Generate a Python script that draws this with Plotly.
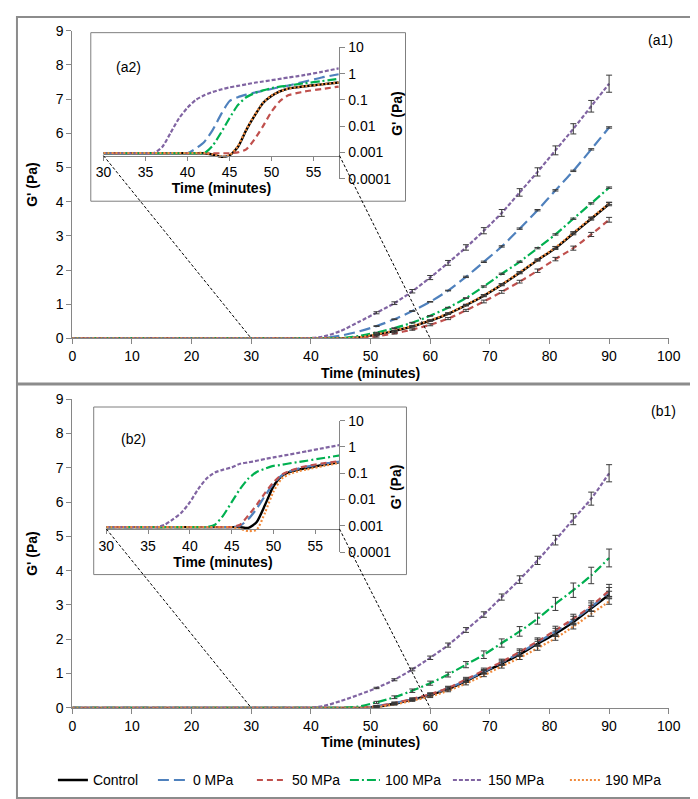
import plotly.graph_objects as go

W, H = 698, 799

# ---------------- data ----------------
SERIES = ["Control", "0 MPa", "50 MPa", "100 MPa", "150 MPa", "190 MPa"]

T_MAIN = [0, 3, 6, 9, 12, 15, 18, 21, 24, 27, 30, 33, 36, 39, 42, 45,
          48, 51, 54, 57, 60, 63, 66, 69, 72, 75, 78, 81, 84, 87, 90]
T_ERR = [51, 54, 57, 60, 63, 66, 69, 72, 75, 78, 81, 84, 87, 90]
T_IN = [30, 32, 34, 36, 37, 38, 39, 40, 41, 42, 43, 44, 45, 46, 47, 48,
        49, 50, 51, 52, 53, 54, 56, 58]

# panel (a1) main, G' (Pa)
A_CONTROL = [0, 0, 0, 0, 0, 0, 0, 0, 0, 0, 0, 0, 0, 0, 0, 0.0,
             0.03, 0.11, 0.22, 0.35, 0.52, 0.72, 0.97, 1.25, 1.57, 1.92, 2.29, 2.64, 3.07, 3.50, 3.93]
A_0MPA = [0, 0, 0, 0, 0, 0, 0, 0, 0, 0, 0, 0, 0, 0, 0.01, 0.08,
          0.20, 0.36, 0.56, 0.80, 1.07, 1.40, 1.80, 2.24, 2.69, 3.21, 3.75, 4.33, 4.90, 5.53, 6.17]
A_50MPA = [0, 0, 0, 0, 0, 0, 0, 0, 0, 0, 0, 0, 0, 0, 0, 0,
           0.01, 0.06, 0.15, 0.26, 0.40, 0.58, 0.82, 1.08, 1.36, 1.66, 1.98, 2.32, 2.64, 3.04, 3.47]
A_100MPA = [0, 0, 0, 0, 0, 0, 0, 0, 0, 0, 0, 0, 0, 0, 0, 0.01,
            0.07, 0.17, 0.30, 0.46, 0.66, 0.90, 1.18, 1.52, 1.89, 2.24, 2.64, 3.04, 3.50, 3.95, 4.41]
A_150MPA = [0, 0, 0, 0, 0, 0, 0, 0, 0, 0, 0, 0, 0, 0.0, 0.05, 0.22,
            0.48, 0.75, 1.03, 1.38, 1.78, 2.21, 2.66, 3.15, 3.67, 4.27, 4.87, 5.50, 6.13, 6.79, 7.45]
A_190MPA = [0, 0, 0, 0, 0, 0, 0, 0, 0, 0, 0, 0, 0, 0, 0, 0.0,
            0.03, 0.12, 0.23, 0.36, 0.53, 0.73, 0.98, 1.26, 1.58, 1.93, 2.30, 2.66, 3.09, 3.52, 3.95]

EA_CONTROL = [0.01, 0.01, 0.02, 0.02, 0.02, 0.02, 0.03, 0.03, 0.03, 0.03, 0.04, 0.04, 0.04, 0.05]
EA_0MPA = [0.01, 0.01, 0.01, 0.01, 0.01, 0.02, 0.02, 0.02, 0.02, 0.02, 0.02, 0.02, 0.02, 0.02]
EA_50MPA = [0.02, 0.02, 0.02, 0.03, 0.03, 0.03, 0.04, 0.04, 0.04, 0.05, 0.05, 0.06, 0.06, 0.07]
EA_100MPA = [0.01, 0.01, 0.01, 0.01, 0.01, 0.01, 0.02, 0.02, 0.02, 0.02, 0.02, 0.02, 0.02, 0.02]
EA_150MPA = [0.03, 0.04, 0.05, 0.06, 0.07, 0.08, 0.09, 0.10, 0.11, 0.12, 0.13, 0.15, 0.17, 0.25]
EA_190MPA = [0.01, 0.01, 0.01, 0.01, 0.02, 0.02, 0.02, 0.02, 0.02, 0.02, 0.03, 0.03, 0.03, 0.03]

# panel (b1) main, G' (Pa)
B_CONTROL = [0, 0, 0, 0, 0, 0, 0, 0, 0, 0, 0, 0, 0, 0, 0, 0, 0,
             0.03, 0.12, 0.24, 0.37, 0.55, 0.78, 1.04, 1.29, 1.56, 1.87, 2.16, 2.50, 2.90, 3.30]
B_0MPA = [0, 0, 0, 0, 0, 0, 0, 0, 0, 0, 0, 0, 0, 0, 0, 0, 0,
          0.05, 0.14, 0.25, 0.39, 0.57, 0.80, 1.06, 1.32, 1.60, 1.91, 2.22, 2.56, 2.94, 3.38]
B_50MPA = [0, 0, 0, 0, 0, 0, 0, 0, 0, 0, 0, 0, 0, 0, 0, 0, 0,
           0.05, 0.14, 0.26, 0.40, 0.58, 0.83, 1.09, 1.34, 1.63, 1.94, 2.26, 2.60, 2.97, 3.42]
B_100MPA = [0, 0, 0, 0, 0, 0, 0, 0, 0, 0, 0, 0, 0, 0, 0, 0,
            0.04, 0.16, 0.31, 0.50, 0.72, 0.97, 1.26, 1.55, 1.89, 2.23, 2.60, 3.03, 3.43, 3.86, 4.37]
B_150MPA = [0, 0, 0, 0, 0, 0, 0, 0, 0, 0, 0, 0, 0, 0, 0.05,
            0.20, 0.38, 0.58, 0.82, 1.12, 1.46, 1.83, 2.27, 2.72, 3.23, 3.74, 4.30, 4.89, 5.50, 6.10, 6.84]
B_190MPA = [0, 0, 0, 0, 0, 0, 0, 0, 0, 0, 0, 0, 0, 0, 0, 0, 0,
            0.02, 0.10, 0.21, 0.33, 0.50, 0.71, 0.95, 1.21, 1.46, 1.74, 2.03, 2.37, 2.74, 3.10]

EB_CONTROL = [0.01, 0.02, 0.02, 0.03, 0.03, 0.04, 0.05, 0.05, 0.06, 0.07, 0.08, 0.08, 0.09, 0.10]
EB_0MPA = [0.02, 0.02, 0.03, 0.03, 0.04, 0.05, 0.06, 0.07, 0.08, 0.09, 0.10, 0.11, 0.12, 0.13]
EB_50MPA = [0.02, 0.03, 0.03, 0.04, 0.05, 0.06, 0.07, 0.08, 0.09, 0.10, 0.12, 0.13, 0.15, 0.18]
EB_100MPA = [0.03, 0.04, 0.05, 0.06, 0.07, 0.09, 0.11, 0.12, 0.14, 0.16, 0.19, 0.21, 0.24, 0.26]
EB_150MPA = [0.02, 0.03, 0.04, 0.05, 0.06, 0.07, 0.08, 0.09, 0.11, 0.12, 0.14, 0.16, 0.19, 0.25]
EB_190MPA = [0.01, 0.02, 0.02, 0.03, 0.03, 0.04, 0.04, 0.05, 0.05, 0.06, 0.06, 0.07, 0.07, 0.08]

# inset (a2), G' (Pa), log scale
IA_CONTROL = [0.00093, 0.00093, 0.00093, 0.00093, 0.00093, 0.00093, 0.00093, 0.00093, 0.00093, 0.00093,
              0.00083, 0.00068, 0.00076, 0.0016, 0.0071, 0.025, 0.076, 0.14, 0.21, 0.27, 0.30, 0.33, 0.39, 0.46]
IA_0MPA = [0.00093, 0.00093, 0.00093, 0.00093, 0.00093, 0.00093, 0.00093, 0.00093,
           0.0014, 0.0025, 0.0071, 0.028, 0.089, 0.126, 0.158, 0.19, 0.22, 0.26, 0.31, 0.35, 0.42, 0.50, 0.71, 0.95]
IA_50MPA = [0.00093, 0.00093, 0.00093, 0.00093, 0.00093, 0.00093, 0.00093, 0.00093, 0.00093, 0.00093,
            0.00093, 0.00093, 0.00093, 0.0010, 0.0013, 0.0032, 0.010, 0.035, 0.089, 0.15, 0.18, 0.21, 0.26, 0.32]
IA_100MPA = [0.00093, 0.00093, 0.00093, 0.00093, 0.00093, 0.00093, 0.00093, 0.00093, 0.00093, 0.00093,
             0.0018, 0.0056, 0.020, 0.063, 0.126, 0.18, 0.23, 0.28, 0.32, 0.35, 0.39, 0.43, 0.52, 0.63]
IA_150MPA = [0.00093, 0.00093, 0.00093, 0.00095, 0.0016, 0.0056, 0.020, 0.050, 0.10, 0.15,
             0.20, 0.25, 0.30, 0.34, 0.39, 0.45, 0.50, 0.56, 0.63, 0.71, 0.79, 0.89, 1.17, 1.58]
IA_190MPA = [0.00095, 0.00095, 0.00095, 0.00095, 0.00095, 0.00095, 0.00095, 0.00095, 0.00095, 0.00095,
             0.00085, 0.00070, 0.00078, 0.0017, 0.0075, 0.026, 0.078, 0.145, 0.21, 0.27, 0.30, 0.33, 0.39, 0.46]

# inset (b2), G' (Pa), log scale
IB_CONTROL = [0.00089, 0.00089, 0.00089, 0.00089, 0.00089, 0.00089, 0.00089, 0.00089, 0.00089, 0.00089,
              0.00089, 0.00089, 0.00089, 0.00089, 0.00083, 0.0014, 0.0063, 0.032, 0.079, 0.112, 0.138, 0.158, 0.21, 0.27]
IB_0MPA = [0.00089, 0.00089, 0.00089, 0.00089, 0.00089, 0.00089, 0.00089, 0.00089, 0.00089, 0.00089,
           0.00089, 0.00089, 0.00089, 0.0010, 0.0018, 0.0045, 0.014, 0.040, 0.083, 0.12, 0.15, 0.18, 0.23, 0.28]
IB_50MPA = [0.00089, 0.00089, 0.00089, 0.00089, 0.00089, 0.00089, 0.00089, 0.00089, 0.00089, 0.00089,
            0.00089, 0.00089, 0.00089, 0.0011, 0.0025, 0.0063, 0.018, 0.045, 0.089, 0.126, 0.158, 0.19, 0.24, 0.29]
IB_100MPA = [0.00089, 0.00089, 0.00089, 0.00089, 0.00089, 0.00089, 0.00089, 0.00089, 0.00089, 0.00089,
             0.0011, 0.0025, 0.0079, 0.025, 0.063, 0.112, 0.15, 0.19, 0.21, 0.24, 0.27, 0.30, 0.38, 0.48]
IB_150MPA = [0.00089, 0.00089, 0.00089, 0.00089, 0.0011, 0.0018, 0.0032, 0.0079, 0.025, 0.063,
             0.107, 0.138, 0.166, 0.23, 0.26, 0.30, 0.35, 0.40, 0.46, 0.52, 0.60, 0.69, 0.91, 1.20]
IB_190MPA = [0.00089, 0.00089, 0.00089, 0.00089, 0.00089, 0.00089, 0.00089, 0.00089, 0.00089, 0.00089,
             0.00089, 0.00089, 0.00089, 0.00076, 0.00063, 0.00071, 0.0032, 0.020, 0.063, 0.095, 0.12, 0.14, 0.19, 0.25]

MAIN_X_TICKS = [0, 10, 20, 30, 40, 50, 60, 70, 80, 90, 100]
MAIN_Y_TICKS = [0, 1, 2, 3, 4, 5, 6, 7, 8, 9]
INSET_X_TICKS = [30, 35, 40, 45, 50, 55]
INSET_Y_TICKS = [0.0001, 0.001, 0.01, 0.1, 1, 10]
INSET_Y_LABELS = ["0.0001", "0.001", "0.01", "0.1", "1", "10"]

# ---------------- styles ----------------
COLORS = {"Control": "#000000", "0 MPa": "#4F81BD", "50 MPa": "#C0504D",
          "100 MPa": "#00B050", "150 MPa": "#8064A2", "190 MPa": "#F08A3C"}
DASHES = {"Control": "solid", "0 MPa": "11px,5px", "50 MPa": "6px,4px",
          "100 MPa": "9px,3px,2px,3px", "150 MPa": "4px,2px", "190 MPa": "2px,2px"}
WIDTHS = {"Control": 2.4, "0 MPa": 2.2, "50 MPa": 2.2, "100 MPa": 2.2, "150 MPa": 2.2, "190 MPa": 2.2}
LEGEND_W = {"Control": 55, "0 MPa": 54, "50 MPa": 48, "100 MPa": 58, "150 MPa": 72, "190 MPa": 58}

FONT = "Liberation Sans, Arial, sans-serif"
AXIS_COLOR = "#868686"


def dom_x(p0, p1):
    return [p0 / W, p1 / W]


def dom_y(top, bottom):
    return [1 - bottom / H, 1 - top / H]


# pixel layout of plot areas
MAIN_X_PX = (58, 672)
MAIN_A_Y_PX = (15, 329)
MAIN_B_Y_PX = (391, 706)
INS_A_X_PX = (90, 333)
INS_B_X_PX = (93, 333)
INS_A_Y_PX = (32, 166)
INS_B_Y_PX = (413, 547)
INS_X_RANGE_A = [30, 58.1]
INS_X_RANGE_B = [30, 57.9]
INS_Y_LOG_RANGE = [-4, 1]
INS_X_CROSS_LOG = -3.12  # log10 of G' where inset time axis crosses

fig = go.Figure()

main_sets = [
    ("x", "y", T_MAIN, [A_CONTROL, A_0MPA, A_50MPA, A_100MPA, A_150MPA, A_190MPA],
     [EA_CONTROL, EA_0MPA, EA_50MPA, EA_100MPA, EA_150MPA, EA_190MPA], True),
    ("x2", "y2", T_MAIN, [B_CONTROL, B_0MPA, B_50MPA, B_100MPA, B_150MPA, B_190MPA],
     [EB_CONTROL, EB_0MPA, EB_50MPA, EB_100MPA, EB_150MPA, EB_190MPA], False),
]

for xa, ya, tt, vals, errs, legend in main_sets:
    for name, v, e in zip(SERIES, vals, errs):
        fig.add_trace(go.Scatter(
            x=tt, y=v, mode="lines", name=name, legendgroup=name, showlegend=legend,
            legendwidth=LEGEND_W[name],
            line=dict(color=COLORS[name], dash=DASHES[name], width=WIDTHS[name],
                      shape="spline", smoothing=0.8),
            xaxis=xa, yaxis=ya, hoverinfo="skip"))
    for name, v, e in zip(SERIES, vals, errs):
        ey = [v[tt.index(t)] for t in T_ERR]
        fig.add_trace(go.Scatter(
            x=T_ERR, y=ey, mode="markers", showlegend=False, legendgroup=name,
            marker=dict(size=2, color=COLORS[name], opacity=0.0),
            error_y=dict(type="data", array=e, visible=True, color="#3a3a3a",
                         thickness=1, width=3),
            xaxis=xa, yaxis=ya, hoverinfo="skip"))

inset_sets = [
    ("x3", "y3", [IA_CONTROL, IA_0MPA, IA_50MPA, IA_100MPA, IA_150MPA, IA_190MPA]),
    ("x4", "y4", [IB_CONTROL, IB_0MPA, IB_50MPA, IB_100MPA, IB_150MPA, IB_190MPA]),
]
for xa, ya, vals in inset_sets:
    for name, v in zip(SERIES, vals):
        fig.add_trace(go.Scatter(
            x=T_IN, y=v, mode="lines", showlegend=False, legendgroup=name,
            line=dict(color=COLORS[name], dash=DASHES[name], width=WIDTHS[name],
                      shape="spline", smoothing=0.6),
            xaxis=xa, yaxis=ya, hoverinfo="skip"))

tickfont = dict(family=FONT, size=14, color="#000000")
titlefont = dict(family=FONT, size=14, color="#000000")

main_x = dict(range=[0, 100], tickvals=MAIN_X_TICKS, showgrid=False, zeroline=False,
              showline=True, linecolor=AXIS_COLOR, linewidth=1, ticks="outside",
              ticklen=5, tickcolor=AXIS_COLOR, tickfont=tickfont,
              title=dict(text="<b>Time (minutes)</b>", font=titlefont, standoff=4))
main_y = dict(range=[0, 9], tickvals=MAIN_Y_TICKS, showgrid=False, zeroline=False,
              showline=True, linecolor=AXIS_COLOR, linewidth=1, ticks="outside",
              ticklen=5, tickcolor=AXIS_COLOR, tickfont=tickfont,
              title=dict(text="<b>G' (Pa)</b>", font=titlefont, standoff=14))


def cross_pos(ypx):
    top, bot = ypx
    frac = (INS_X_CROSS_LOG - INS_Y_LOG_RANGE[0]) / (INS_Y_LOG_RANGE[1] - INS_Y_LOG_RANGE[0])
    return 1 - (bot - frac * (bot - top)) / H


def inset_x(dom, rng, ypx):
    return dict(domain=dom, range=rng, tickvals=INSET_X_TICKS, showgrid=False, zeroline=False,
                showline=True, linecolor=AXIS_COLOR, linewidth=1, ticks="outside",
                ticklen=4, tickcolor=AXIS_COLOR, tickfont=tickfont,
                anchor="free", position=cross_pos(ypx),
                title=dict(text="<b>Time (minutes)</b>", font=titlefont, standoff=2))


def inset_y(dom, xname):
    return dict(domain=dom, type="log", range=INS_Y_LOG_RANGE, tickvals=INSET_Y_TICKS,
                ticktext=INSET_Y_LABELS, showgrid=False, zeroline=False, side="right",
                anchor=xname, showline=True, linecolor=AXIS_COLOR, linewidth=1,
                ticks="outside", ticklen=5, tickcolor=AXIS_COLOR, tickfont=tickfont)


fig.update_layout(
    width=W, height=H, margin=dict(l=0, r=0, t=0, b=0),
    paper_bgcolor="white", plot_bgcolor="rgba(0,0,0,0)",
    font=dict(family=FONT, size=14, color="#000000"),
    xaxis=dict(domain=dom_x(*MAIN_X_PX), anchor="y", **main_x),
    yaxis=dict(domain=dom_y(*MAIN_A_Y_PX), anchor="x", **main_y),
    xaxis2=dict(domain=dom_x(*MAIN_X_PX), anchor="y2", **main_x),
    yaxis2=dict(domain=dom_y(*MAIN_B_Y_PX), anchor="x2", **main_y),
    xaxis3=inset_x(dom_x(*INS_A_X_PX), INS_X_RANGE_A, INS_A_Y_PX),
    yaxis3=inset_y(dom_y(*INS_A_Y_PX), "x3"),
    xaxis4=inset_x(dom_x(*INS_B_X_PX), INS_X_RANGE_B, INS_B_Y_PX),
    yaxis4=inset_y(dom_y(*INS_B_Y_PX), "x4"),
    legend=dict(orientation="h", x=38 / W, y=1 - 780 / H, xanchor="left", yanchor="middle",
                font=dict(family=FONT, size=14, color="#000000"), bgcolor="rgba(0,0,0,0)",
                itemwidth=30, tracegroupgap=0),
    showlegend=True,
)

shapes = []
# panel frames
shapes.append(dict(type="rect", xref="paper", yref="paper", x0=1 / W, x1=1 - 1 / W,
                   y0=1 - 375 / H, y1=1 - 1 / H, line=dict(color="#8c8c8c", width=2), layer="above"))
shapes.append(dict(type="rect", xref="paper", yref="paper", x0=1 / W, x1=1 - 1 / W,
                   y0=1 / H, y1=1 - 376 / H, line=dict(color="#8c8c8c", width=2), layer="above"))
# inset boxes
for (x0, y0, x1, y1) in [(77, 17, 401, 189), (80, 399, 402, 570)]:
    shapes.append(dict(type="rect", xref="paper", yref="paper", x0=x0 / W, x1=x1 / W,
                       y0=1 - y1 / H, y1=1 - y0 / H, fillcolor="white",
                       line=dict(color="#7f7f7f", width=1), layer="below"))


def main_xpx(v):
    return MAIN_X_PX[0] + (v - 0) / 100 * (MAIN_X_PX[1] - MAIN_X_PX[0])


# zoom connector lines: inset time-axis ends -> main 30 and 60 minutes
for ins_x, ins_y, main_y_px in [(INS_A_X_PX, INS_A_Y_PX, MAIN_A_Y_PX),
                                (INS_B_X_PX, INS_B_Y_PX, MAIN_B_Y_PX)]:
    ycross = cross_pos(ins_y)
    for ix, mv in [(ins_x[0], 30), (ins_x[1], 60)]:
        shapes.append(dict(type="line", xref="paper", yref="paper",
                           x0=ix / W, y0=ycross, x1=main_xpx(mv) / W, y1=1 - main_y_px[1] / H,
                           line=dict(color="#000000", width=1, dash="3px,2px"), layer="above"))

annotations = []
for txt, px, py in [("(a1)", 663, 25), ("(b1)", 667, 403), ("(a2)", 116, 52), ("(b2)", 121, 432)]:
    annotations.append(dict(text=txt, x=px / W, y=1 - py / H, xref="paper", yref="paper",
                            showarrow=False, xanchor="center", yanchor="middle",
                            font=dict(family=FONT, size=14, color="#000000")))
for py in [(INS_A_Y_PX[0] + INS_A_Y_PX[1]) / 2, (INS_B_Y_PX[0] + INS_B_Y_PX[1]) / 2]:
    annotations.append(dict(text="<b>G' (Pa)</b>", x=392 / W, y=1 - py / H, xref="paper", yref="paper",
                            showarrow=False, xanchor="center", yanchor="middle", textangle=-90,
                            font=titlefont))

fig.update_layout(shapes=shapes, annotations=annotations)

fig.write_html("out.html")
